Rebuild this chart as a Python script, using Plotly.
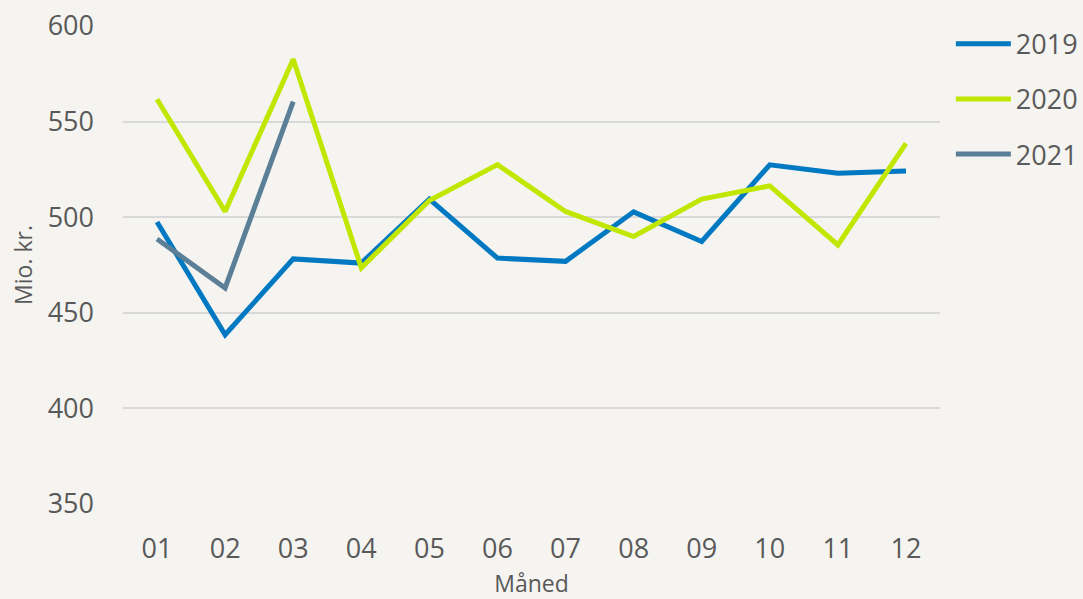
import plotly.graph_objects as go

months = ["01", "02", "03", "04", "05", "06", "07", "08", "09", "10", "11", "12"]
y2019 = [497.5, 438.5, 478.2, 476.0, 509.5, 478.6, 476.9, 502.8, 487.3, 527.4, 523.0, 524.2]
y2020 = [561.7, 503.0, 582.6, 473.5, 508.7, 527.5, 503.0, 489.9, 509.5, 516.4, 485.5, 538.6]
y2021 = [488.6, 463.0, 560.5]

series = [
    ("2019", y2019, "#0079C2"),
    ("2020", y2020, "#C1E600"),
    ("2021", y2021, "#5B7F96"),
]

fig = go.Figure()
for name, vals, color in series:
    fig.add_trace(go.Scatter(
        x=months[:len(vals)], y=vals, name=name, mode="lines",
        line=dict(color=color, width=5), legendgroup=name,
    ))

text_color = "#595959"
fig.update_layout(
    width=1083, height=599,
    paper_bgcolor="#F5F4F0", plot_bgcolor="#F5F4F0",
    margin=dict(l=123, r=143, t=26, b=95, autoexpand=False),
    font=dict(family="Open Sans", color=text_color, size=27),
    legend=dict(
        x=0.878, y=0.967, xanchor="left", yanchor="top",
        xref="container", yref="container",
        font=dict(size=27, color=text_color),
        tracegroupgap=17, bgcolor="rgba(0,0,0,0)",
        itemwidth=55,
    ),
    xaxis=dict(
        type="category", categoryorder="array", categoryarray=months,
        range=[-0.5, 11.5], showgrid=False, zeroline=False, showline=False,
        ticks="", ticklabelstandoff=26, automargin=True,
        tickfont=dict(size=27, color=text_color),
        title=dict(text="Måned", font=dict(size=23, color=text_color), standoff=13),
    ),
    yaxis=dict(
        range=[350, 600], tickvals=[350, 400, 450, 500, 550, 600],
        showgrid=True, gridcolor="#D9D9D9", gridwidth=1.5, zeroline=False,
        showline=False, ticks="", ticklabelstandoff=28, automargin=False,
        tickfont=dict(size=27, color=text_color),
        title=dict(text="Mio. kr.", font=dict(size=23, color=text_color), standoff=8),
    ),
)

fig.write_html(
    "out.html",
    config={"displayModeBar": False},
    post_script="document.body.style.margin='0';document.body.style.background='#F5F4F0';",
)
